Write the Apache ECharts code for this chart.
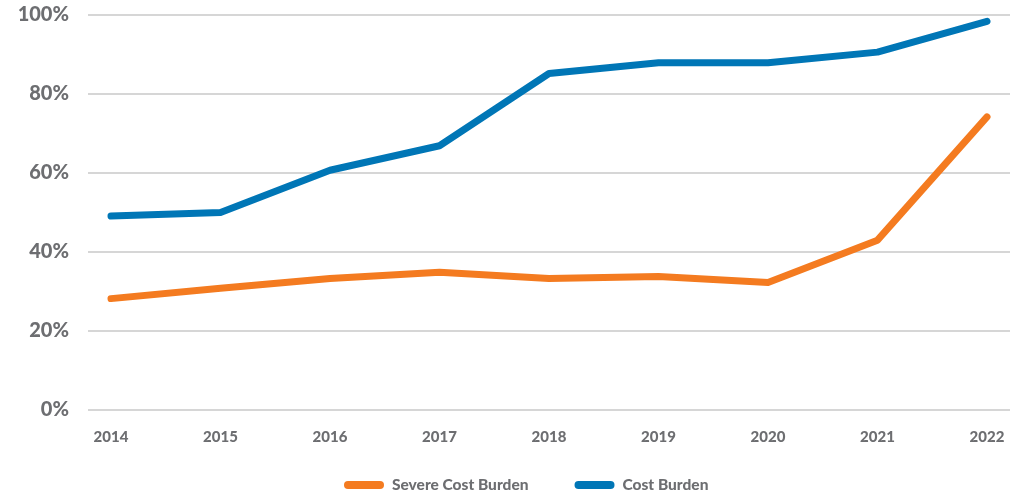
<!DOCTYPE html>
<html>
<head>
<meta charset="utf-8">
<style>
  html, body { margin: 0; padding: 0; background: #ffffff; }
  #chart { width: 1011px; height: 493px; }
</style>
<script src="https://cdn.jsdelivr.net/npm/echarts@6/dist/echarts.min.js"></script>
</head>
<body>
<div id="chart"></div>
<script>
// Share of households by year, in percent
const years = [2014, 2015, 2016, 2017, 2018, 2019, 2020, 2021, 2022];
const severeCostBurden = [28.2, 30.8, 33.3, 34.9, 33.3, 33.8, 32.3, 43.0, 74.2];
const costBurden = [49.1, 50.0, 60.7, 66.9, 85.2, 87.9, 87.9, 90.6, 98.4];
const yTicks = [0, 20, 40, 60, 80, 100];

const textGrey = '#6d6e71';
const gridGrey = '#c8c8c8';
const fontFamily = 'Lato, "Open Sans", sans-serif';

const pair = (vals) => years.map((y, i) => [y, vals[i]]);

const legendIcon = 'path://M4,0 L36,0 A4,4 0 0 1 36,8 L4,8 A4,4 0 0 1 4,0 Z';

const chart = echarts.init(document.getElementById('chart'), null, { renderer: 'canvas' });
chart.setOption({
  animation: false,
  backgroundColor: '#ffffff',
  grid: { left: 88, right: 1, top: 15, bottom: 83, containLabel: false },
  xAxis: {
    type: 'value',
    min: 2013.79,
    max: 2022.21,
    axisLine: { show: false },
    axisTick: { show: false },
    splitLine: { show: false },
    axisLabel: {
      customValues: years,
      formatter: (v) => String(v),
      margin: 20,
      color: textGrey,
      fontFamily: fontFamily,
      fontWeight: 900,
      fontSize: 15
    }
  },
  yAxis: {
    type: 'value',
    min: 0,
    max: 100,
    interval: 20,
    axisLine: { show: false },
    axisTick: { show: false },
    splitLine: { show: true, lineStyle: { color: gridGrey, width: 1.5 } },
    axisLabel: {
      customValues: yTicks,
      formatter: '{value}%',
      margin: 19,
      color: textGrey,
      fontFamily: fontFamily,
      fontWeight: 900,
      fontSize: 20
    }
  },
  legend: {
    top: 472,
    left: 339,
    itemWidth: 40,
    itemHeight: 8,
    itemGap: 46,
    icon: legendIcon,
    textStyle: {
      color: textGrey,
      fontFamily: fontFamily,
      fontWeight: 900,
      fontSize: 15.5,
      padding: [0, 0, 0, 3]
    },
    data: ['Severe Cost Burden', 'Cost Burden']
  },
  series: [
    {
      name: 'Severe Cost Burden',
      type: 'line',
      data: pair(severeCostBurden),
      showSymbol: false,
      symbol: 'none',
      color: '#f47b20',
      lineStyle: { color: '#f47b20', width: 7, cap: 'round', join: 'round' }
    },
    {
      name: 'Cost Burden',
      type: 'line',
      data: pair(costBurden),
      showSymbol: false,
      symbol: 'none',
      color: '#0076b6',
      lineStyle: { color: '#0076b6', width: 7, cap: 'round', join: 'round' }
    }
  ]
});
</script>
</body>
</html>
